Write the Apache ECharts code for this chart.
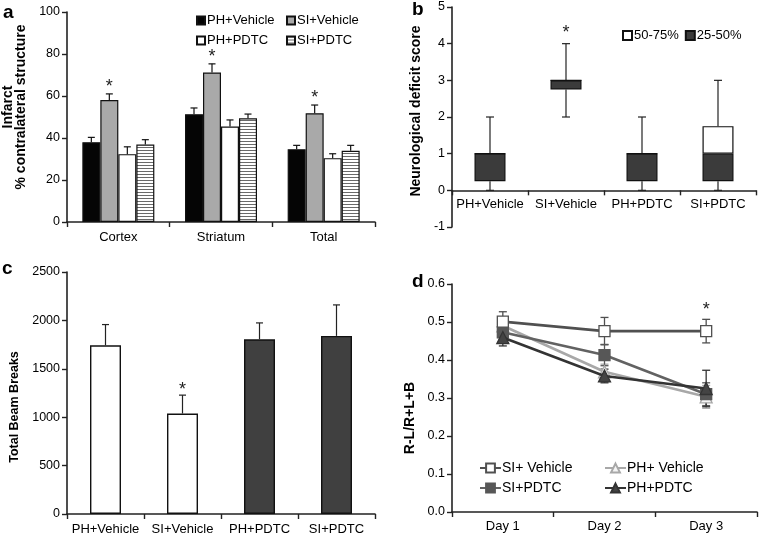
<!DOCTYPE html>
<html><head><meta charset="utf-8">
<script src="https://cdn.jsdelivr.net/npm/echarts@6/dist/echarts.min.js"></script>
<style>
html,body{margin:0;padding:0;background:#fff;}
#wrap{position:relative;width:761px;height:536px;overflow:hidden;background:#fff;}
.p{position:absolute;}
</style></head><body>
<div id="wrap">
<div id="pa" class="p" style="left:0;top:0;width:380px;height:260px"></div>
<div id="pb" class="p" style="left:380px;top:0;width:381px;height:260px"></div>
<div id="pc" class="p" style="left:0;top:260px;width:380px;height:276px"></div>
<div id="pd" class="p" style="left:380px;top:260px;width:381px;height:276px"></div>
</div>
<script>
// ---------- DATA ----------
// Panel a: infarct (% contralateral structure)
const regionsA = ['Cortex', 'Striatum', 'Total'];
const groupsA = ['PH+Vehicle', 'SI+Vehicle', 'PH+PDTC', 'SI+PDTC'];
const phVehA = [38.0, 51.3, 34.7];
const phVehErrA = [2.3, 3.0, 1.8];
const siVehA = [58.1, 71.2, 51.8];
const siVehErrA = [2.9, 4.1, 3.9];
const phPdtcA = [32.3, 45.5, 30.4];
const phPdtcErrA = [3.5, 3.1, 2.1];
const siPdtcA = [36.9, 49.4, 33.9];
const siPdtcErrA = [2.3, 2.0, 2.6];
const sigSiVehA = [1, 1, 1];
const ticksA = [0, 20, 40, 60, 80, 100];

// Panel b: neurological deficit score (box: 25-50% dark, 50-75% white)
const groupsB = ['PH+Vehicle', 'SI+Vehicle', 'PH+PDTC', 'SI+PDTC'];
const minB = [0, 2, 0, 0];
const q1B = [0.25, 2.75, 0.25, 0.25];
const medB = [1, 3, 1, 1];
const q3B = [1, 3, 1, 1.75];
const maxB = [2, 4, 2, 3];
const sigB = [0, 1, 0, 0];
const ticksB = [-1, 0, 1, 2, 3, 4, 5];

// Panel c: total beam breaks
const groupsC = ['PH+Vehicle', 'SI+Vehicle', 'PH+PDTC', 'SI+PDTC'];
const beamC = [1743, 1038, 1805, 1840];
const beamErrC = [214, 190, 169, 320];
const sigC = [0, 1, 0, 0];
const ticksC = [0, 500, 1000, 1500, 2000, 2500];

// Panel d: R-L/R+L+B
const daysD = ['Day 1', 'Day 2', 'Day 3'];
const siVehD = [0.501, 0.476, 0.476];
const siVehErrD = [0.026, 0.036, 0.031];
const phVehD = [0.490, 0.369, 0.303];
const phVehErrD = [0.020, 0.020, 0.030];
const siPdtcD = [0.473, 0.413, 0.310];
const siPdtcErrD = [0.020, 0.028, 0.030];
const phPdtcD = [0.459, 0.358, 0.325];
const phPdtcErrD = [0.022, 0.018, 0.048];
const sigSiVehD = [0, 0, 1];
const ticksD = [0, 0.1, 0.2, 0.3, 0.4, 0.5, 0.6];

// ---------- STYLE HELPERS ----------
const FONT = 'Liberation Sans, Arial, Helvetica, sans-serif';
const AX = '#222';
function valAxis(ticks, name, gap, pad, nameSize, fmt) {
  return {
    type: 'value', min: ticks[0], max: ticks[ticks.length - 1], interval: ticks[1] - ticks[0],
    name: name, nameLocation: 'middle', nameGap: gap, nameRotate: 90,
    nameTextStyle: { fontFamily: FONT, fontWeight: 'bold', fontSize: nameSize, color: '#000', lineHeight: 13, padding: pad },
    axisLine: { show: true, lineStyle: { color: AX, width: 1.6 } },
    axisTick: { show: true, inside: false, length: 5, lineStyle: { color: AX, width: 1.4 } },
    axisLabel: { color: '#000', fontSize: 12.5, fontFamily: FONT, margin: 7, formatter: fmt || (v => String(v)) },
    splitLine: { show: false }
  };
}
function catAxis(cats, margin) {
  return {
    type: 'category', data: cats,
    axisLine: { show: true, onZero: true, lineStyle: { color: AX, width: 1.6 } },
    axisTick: { show: true, inside: false, length: 5, alignWithLabel: false, lineStyle: { color: AX, width: 1.4 } },
    axisLabel: { color: '#000', fontSize: 13, fontFamily: FONT, margin: margin, interval: 0 },
    splitLine: { show: false }
  };
}
function panelLetter(t, x, y) {
  return { type: 'text', left: x, top: y, style: { text: t, font: 'bold 19px ' + FONT, fill: '#000' } };
}
function star(x, yTop) {
  return { type: 'text', style: { text: '*', x: x, y: yTop - 16, align: 'center', verticalAlign: 'top', font: '18px ' + FONT, fill: '#222' } };
}
function errShape(x, y1, y2, capY, color, lw, cap) {
  return [
    { type: 'line', shape: { x1: x, y1: y1, x2: x, y2: y2 }, style: { stroke: color, lineWidth: lw } },
    { type: 'line', shape: { x1: x - cap, y1: capY, x2: x + cap, y2: capY }, style: { stroke: color, lineWidth: lw } }
  ];
}

// ---------- PANEL A ----------
(function () {
  const BAR = 18;
  const c = document.createElement('canvas');
  c.width = 4; c.height = 3;
  const g = c.getContext('2d');
  g.fillStyle = '#ffffff'; g.fillRect(0, 0, 4, 3);
  g.fillStyle = '#6a6a6a'; g.fillRect(0, 0, 4, 1);
  const stripe = { image: c, repeat: 'repeat' };
  const vals = [phVehA, siVehA, phPdtcA, siPdtcA];
  const errs = [phVehErrA, siVehErrA, phPdtcErrA, siPdtcErrA];
  const fills = ['#050505', '#a9a9a9', '#ffffff', stripe];
  const series = [];
  groupsA.forEach((name, k) => {
    series.push({
      name: name, type: 'bar', data: vals[k], barWidth: BAR, barGap: '0%',
      itemStyle: { color: fills[k], borderColor: '#111', borderWidth: 1.2 }, z: 2
    });
  });
  groupsA.forEach((name, k) => {
    series.push({
      type: 'custom', z: 3, silent: true,
      data: vals[k].map((v, i) => [i, v, errs[k][i], k === 1 ? sigSiVehA[i] : 0]),
      encode: { x: 0, y: 1 },
      renderItem: function (params, api) {
        const cat = api.value(0), v = api.value(1), e = api.value(2), s = api.value(3);
        const b = api.coord([cat, v]);
        const t = api.coord([cat, v + e]);
        const x = b[0] + (k - 1.5) * BAR;
        const ch = errShape(x, b[1], t[1], t[1], '#111', 1.2, 3.5);
        if (s) ch.push(star(x, t[1]));
        return { type: 'group', children: ch };
      }
    });
  });
  const legendPos = [[191, 9], [281, 9], [191, 29], [281, 29]];
  const legends = groupsA.map((n, k) => ({
    data: [n], left: legendPos[k][0], top: legendPos[k][1], orient: 'horizontal',
    icon: 'rect', itemWidth: 8, itemHeight: 8, itemGap: 0, selectedMode: false,
    textStyle: { fontSize: 13, fontFamily: FONT, color: '#000', padding: [0, 0, 0, -3] }
  }));
  const chart = echarts.init(document.getElementById('pa'), null, { renderer: 'canvas' });
  chart.setOption({
    animation: false, backgroundColor: '#fff', textStyle: { fontFamily: FONT },
    grid: { left: 67, top: 12, width: 308, height: 210, outerBoundsMode: 'none', containLabel: false },
    xAxis: catAxis(regionsA, 9),
    yAxis: valAxis(ticksA, 'Infarct\n% contralateral structure', 39, [0, 0, 0, 20], 14),
    legend: legends,
    graphic: [panelLetter('a', 3, 3)],
    series: series
  });
})();

// ---------- PANEL B ----------
(function () {
  const BOX = 31;
  const GRID_H = 220;
  const dark = q1B.map((q, i) => +(medB[i] - q).toFixed(3));
  const white = q3B.map((q, i) => +(q - medB[i]).toFixed(3));
  const xAx = catAxis(groupsB, 8);
  xAx.axisLine.onZero = false;
  // place the category axis at value 0 (one interval above the -1 bottom)
  xAx.offset = -GRID_H * (0 - ticksB[0]) / (ticksB[ticksB.length - 1] - ticksB[0]);
  const chart = echarts.init(document.getElementById('pb'), null, { renderer: 'canvas' });
  chart.setOption({
    animation: false, backgroundColor: '#fff', textStyle: { fontFamily: FONT },
    grid: { left: 72, top: 7, width: 304, height: GRID_H, outerBoundsMode: 'none', containLabel: false },
    xAxis: xAx,
    yAxis: valAxis(ticksB, 'Neurological deficit score', 29, [0, 0, 0, 12], 14),
    legend: {
      data: ['50-75%', '25-50%'], left: 237, top: 24, icon: 'rect', itemWidth: 9, itemHeight: 9, itemGap: 6,
      selectedMode: false,
      textStyle: { fontSize: 13, fontFamily: FONT, color: '#000', padding: [0, 0, 0, -3] }
    },
    graphic: [panelLetter('b', 32, 0)],
    series: [
      {
        type: 'custom', z: 1, silent: true,
        data: groupsB.map((g, i) => [i, minB[i], q1B[i], q3B[i], maxB[i], sigB[i]]),
        encode: { x: 0, y: [1, 4] },
        renderItem: function (params, api) {
          const cat = api.value(0);
          const lo = api.coord([cat, api.value(1)]);
          const a = api.coord([cat, api.value(2)]);
          const b = api.coord([cat, api.value(3)]);
          const hi = api.coord([cat, api.value(4)]);
          const x = lo[0];
          let ch = [];
          ch = ch.concat(errShape(x, a[1], lo[1], lo[1], '#222', 1.2, 4));
          ch = ch.concat(errShape(x, b[1], hi[1], hi[1], '#222', 1.2, 4));
          if (api.value(5)) ch.push(star(x, hi[1] - 4));
          return { type: 'group', children: ch };
        }
      },
      { name: 'base', type: 'bar', stack: 'box', data: q1B, barWidth: BOX, silent: true,
        itemStyle: { color: 'rgba(0,0,0,0)', borderWidth: 0 }, z: 2 },
      { name: '25-50%', type: 'bar', stack: 'box', data: dark, barWidth: BOX,
        itemStyle: { color: '#3b3b3b', borderColor: '#111', borderWidth: 1.2 }, z: 2 },
      { name: '50-75%', type: 'bar', stack: 'box', data: white, barWidth: BOX,
        itemStyle: { color: '#ffffff', borderColor: '#111', borderWidth: 1.2 }, z: 2 }
    ]
  });
})();

// ---------- PANEL C ----------
(function () {
  const BAR = 31;
  const chart = echarts.init(document.getElementById('pc'), null, { renderer: 'canvas' });
  chart.setOption({
    animation: false, backgroundColor: '#fff', textStyle: { fontFamily: FONT },
    grid: { left: 67, top: 12, width: 308, height: 242, outerBoundsMode: 'none', containLabel: false },
    xAxis: catAxis(groupsC, 9),
    yAxis: valAxis(ticksC, 'Total Beam Breaks', 45, [0, 28, 0, 0], 12.5, v => String(v)),
    graphic: [panelLetter('c', 2, -1)],
    series: [
      {
        name: 'Total Beam Breaks', type: 'bar', barWidth: BAR, z: 2,
        data: beamC.map((v, i) => ({ value: v, itemStyle: { color: i < 2 ? '#ffffff' : '#404040' } })),
        itemStyle: { borderColor: '#111', borderWidth: 1.4 }
      },
      {
        type: 'custom', z: 3, silent: true,
        data: beamC.map((v, i) => [i, v, beamErrC[i], sigC[i]]),
        encode: { x: 0, y: 1 },
        renderItem: function (params, api) {
          const cat = api.value(0), v = api.value(1), e = api.value(2);
          const b = api.coord([cat, v]);
          const t = api.coord([cat, v + e]);
          const ch = errShape(b[0], b[1], t[1], t[1], '#222', 1.2, 3.5);
          if (api.value(3)) ch.push(star(b[0], t[1] + 2));
          return { type: 'group', children: ch };
        }
      }
    ]
  });
})();

// ---------- PANEL D ----------
(function () {
  const names = ['SI+ Vehicle', 'PH+ Vehicle', 'SI+PDTC', 'PH+PDTC'];
  const vals = [siVehD, phVehD, siPdtcD, phPdtcD];
  const errs = [siVehErrD, phVehErrD, siPdtcErrD, phPdtcErrD];
  const lineCol = ['#505050', '#a8a8a8', '#626262', '#333333'];
  const fillCol = ['#ffffff', '#f4f4f4', '#575757', '#444444'];
  const borderCol = ['#505050', '#a8a8a8', '#575757', '#333333'];
  const sym = ['rect', 'triangle', 'rect', 'triangle'];
  const symSize = [11, 12, 11, 12];
  const series = [];
  names.forEach((n, k) => {
    series.push({
      type: 'custom', z: 1, silent: true,
      data: vals[k].map((v, i) => [i, v, errs[k][i], k === 0 ? sigSiVehD[i] : 0]),
      encode: { x: 0, y: 1 },
      renderItem: function (params, api) {
        const cat = api.value(0), v = api.value(1), e = api.value(2);
        const hi = api.coord([cat, v + e]);
        const lo = api.coord([cat, v - e]);
        let ch = [];
        ch = ch.concat(errShape(hi[0], lo[1], hi[1], hi[1], borderCol[k], 1.3, 4));
        ch.push({ type: 'line', shape: { x1: lo[0] - 4, y1: lo[1], x2: lo[0] + 4, y2: lo[1] }, style: { stroke: borderCol[k], lineWidth: 1.3 } });
        if (api.value(3)) ch.push(star(hi[0], hi[1] - 2));
        return { type: 'group', children: ch };
      }
    });
  });
  names.forEach((n, k) => {
    series.push({
      name: n, type: 'line', data: vals[k], z: 3 + (k === 0 ? 4 : k),
      symbol: sym[k], symbolSize: symSize[k], showAllSymbol: true,
      lineStyle: { color: lineCol[k], width: 2.6 },
      itemStyle: { color: fillCol[k], borderColor: borderCol[k], borderWidth: 1.3 }
    });
  });
  const legendPos = [[94, 196], [219, 196], [94, 216], [219, 216]];
  const legends = names.map((n, k) => ({
    data: [n], left: legendPos[k][0], top: legendPos[k][1], itemWidth: 21, itemHeight: 11,
    selectedMode: false,
    textStyle: { fontSize: 14, fontFamily: FONT, color: '#000', padding: [0, 0, 0, -4] }
  }));
  const chart = echarts.init(document.getElementById('pd'), null, { renderer: 'canvas' });
  chart.setOption({
    animation: false, backgroundColor: '#fff', textStyle: { fontFamily: FONT },
    grid: { left: 72, top: 24, width: 305, height: 228, outerBoundsMode: 'none', containLabel: false },
    xAxis: catAxis(daysD, 8),
    yAxis: valAxis(ticksD, 'R-L/R+L+B', 32, [0, 40, 0, 0], 14, v => v.toFixed(1)),
    legend: legends,
    graphic: [panelLetter('d', 32, 12)],
    series: series
  });
})();
</script>
</body></html>
